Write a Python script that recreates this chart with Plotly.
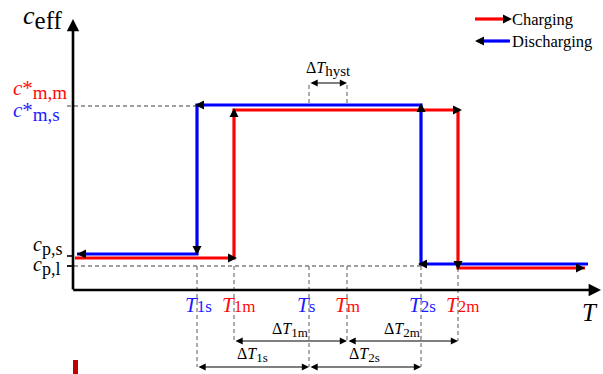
import plotly.graph_objects as go

# ---------------- data (schematic units) ----------------
# characteristic temperatures (x) and their labels
T_names = ["T1s", "T1m", "Ts", "Tm", "T2s", "T2m"]
T_subs = ["1s", "1m", "s", "m", "2s", "2m"]
T_vals = [124, 161, 236, 274, 348, 385]
T_kind = ["s", "m", "s", "m", "s", "m"]      # s -> discharging (blue), m -> charging (red)
T1s, T1m, Ts, Tm, T2s, T2m = T_vals

# effective heat-capacity levels (y)
c_ps = 36          # c_p,s (solid sensible level)
c_pl = 24          # c_p,l (liquid sensible level, dashed reference)
c_ms = 185         # c*_m,s (apparent capacity, discharging)
c_mm = 180         # c*_m,m (apparent capacity, charging)
dis_low_right = 26
chg_low_left = 32
chg_low_right = 22

# curve extents along T
T_min_dis, T_max_dis = 4, 515
T_min_chg, T_max_chg = 2, 512

# discharging path (travelled from high T to low T)
dis_T = [T_max_dis, T2s, T2s, T1s, T1s, T_min_dis]
dis_c = [dis_low_right, dis_low_right, c_ms, c_ms, c_ps, c_ps]
# charging path (travelled from low T to high T)
chg_T = [T_min_chg, T1m, T1m, T2m, T2m, T_max_chg]
chg_c = [chg_low_left, chg_low_left, c_mm, c_mm, chg_low_right, chg_low_right]

# ---------------- styling ----------------
BLUE = "#0000ff"
RED = "#ff0000"
TBLUE = "#1c1cff"
TRED = "#ff0a0a"
GRAY = "#808080"
FONT = "Liberation Serif, Times New Roman, serif"

def X(px):
    return px - 73

def Y(py):
    return 290 - py

fig = go.Figure()

# dashed guide lines
def dashed(xs, ys):
    fig.add_trace(go.Scatter(x=xs, y=ys, mode="lines", hoverinfo="skip",
                             line=dict(color=GRAY, width=1.3, dash="4px,3px")))

dashed([X(67), T1s], [c_ms - 1, c_ms - 1])
dashed([X(67), T2s], [c_pl, c_pl])
y_low1, y_low2 = Y(367), Y(341)
dashed([T1s, T1s], [c_pl, y_low1])
dashed([T1m, T1m], [c_pl, y_low2])
dashed([Ts, Ts], [c_pl, y_low1])
dashed([Tm, Tm], [c_pl, y_low2])
dashed([T2s, T2s], [c_pl, y_low1])
dashed([T2m, T2m], [chg_low_right, y_low2])
y_hyst = Y(83)
dashed([Ts, Ts], [y_hyst - 2, c_ms + 1])
dashed([Tm, Tm], [y_hyst - 2, c_ms + 1])

# curves
fig.add_trace(go.Scatter(x=chg_T, y=chg_c, mode="lines", hoverinfo="skip",
                         line=dict(color=RED, width=3.2)))
fig.add_trace(go.Scatter(x=dis_T, y=dis_c, mode="lines", hoverinfo="skip",
                         line=dict(color=BLUE, width=3.2)))

# direction arrowheads (tips on the curves)
heads_x = [T2s - 3, T2s, T1s - 2, T1s, T_min_dis,
           T1m + 3, T1m, T2m + 4, T2m, T_max_chg]
heads_y = [dis_low_right, c_ms + 2, c_ms, c_ps - 1, c_ps,
           chg_low_left, c_mm + 2, c_mm, chg_low_right - 2, chg_low_right]
heads_s = ["arrow-left", "arrow-up", "arrow-left", "arrow-down", "arrow-left",
           "arrow-right", "arrow-up", "arrow-right", "arrow-down", "arrow-right"]
fig.add_trace(go.Scatter(x=heads_x, y=heads_y, mode="markers", hoverinfo="skip",
                         marker=dict(symbol=heads_s, size=9, color="black",
                                     line=dict(width=0))))

# legend (drawn manually)
fig.add_trace(go.Scatter(x=[X(475), X(505)], y=[Y(19), Y(19)], mode="lines",
                         line=dict(color=RED, width=3.2), hoverinfo="skip"))
fig.add_trace(go.Scatter(x=[X(478), X(510)], y=[Y(41), Y(41)], mode="lines",
                         line=dict(color=BLUE, width=3.2), hoverinfo="skip"))
fig.add_trace(go.Scatter(x=[X(512), X(475)], y=[Y(19), Y(41)], mode="markers",
                         hoverinfo="skip",
                         marker=dict(symbol=["arrow-right", "arrow-left"], size=9,
                                     color="black", line=dict(width=0))))

ann = []
# axes with arrows
ann.append(dict(x=0, y=Y(19), ax=0, ay=Y(291), xref="x", yref="y", axref="x", ayref="y",
                text="", showarrow=True, arrowhead=2, arrowsize=0.95, arrowwidth=2.6,
                arrowcolor="black", standoff=0))
ann.append(dict(x=X(601), y=0, ax=X(71.7), ay=0, xref="x", yref="y", axref="x", ayref="y",
                text="", showarrow=True, arrowhead=2, arrowsize=0.95, arrowwidth=2.6,
                arrowcolor="black", standoff=0))
# y ticks
for lvl in [c_ps - 2, c_pl]:
    fig.add_shape(type="line", x0=X(67), x1=0, y0=lvl, y1=lvl,
                  line=dict(color="black", width=1.6))

# double arrows
def darrow(xa, xb, yy):
    ann.append(dict(x=xb, y=yy, ax=xa, ay=yy, xref="x", yref="y", axref="x", ayref="y",
                    text="", showarrow=True, arrowhead=2, arrowsize=1.2, arrowwidth=1.2,
                    arrowside="end+start", startarrowhead=2, startarrowsize=1.2,
                    arrowcolor="black", standoff=0, startstandoff=0))

darrow(Ts, Tm, y_hyst)
darrow(T1m, Tm, y_low2)
darrow(Tm, T2m, y_low2)
darrow(T1s, Ts, y_low1)
darrow(Ts, T2s, y_low1)

def txt(x, y, s, size, color="black", xanchor="center"):
    ann.append(dict(x=x, y=y, xref="x", yref="y", text=s, showarrow=False,
                    font=dict(family=FONT, size=size, color=color),
                    xanchor=xanchor, yanchor="middle"))

SUB = '<sub><span style="font-size:{}px">{}</span></sub>'
SML = '<span style="font-size:{}px">{}</span>'

# delta labels
txt((Ts + Tm) / 2, Y(69), "Δ<i>T</i>" + SUB.format(15, "hyst"), 16)
txt((T1m + Tm) / 2 - 1, Y(330), "Δ<i>T</i>" + SUB.format(13, "1m"), 16)
txt((Tm + T2m) / 2 - 1, Y(330), "Δ<i>T</i>" + SUB.format(13, "2m"), 16)
txt((T1s + Ts) / 2 - 1, Y(355), "Δ<i>T</i>" + SUB.format(13, "1s"), 16)
txt((Ts + T2s) / 2 - 1, Y(355), "Δ<i>T</i>" + SUB.format(13, "2s"), 16)

# temperature tick labels
for tv, sb, kd in zip(T_vals, T_subs, T_kind):
    col = TBLUE if kd == "s" else TRED
    txt(tv - 14, Y(305), "<i>T</i>" + SML.format(17, sb), 21, col, xanchor="left")

# axis titles
txt(X(590), Y(312), "<i>T</i>", 25)
txt(X(21), Y(17), "<i>c</i>" + SUB.format(25, "eff"), 26, xanchor="left")

# y level labels
txt(X(11), Y(89), "<i>c</i>*" + SUB.format(19, "m,m"), 21, TRED, xanchor="left")
txt(X(11), Y(111), "<i>c</i>*" + SUB.format(19, "m,s"), 21, TBLUE, xanchor="left")
txt(X(31), Y(246), "<i>c</i>" + SUB.format(18, "p,s"), 20, xanchor="left")
txt(X(31), Y(266), "<i>c</i>" + SUB.format(18, "p,l"), 20, xanchor="left")

# legend labels
txt(X(510), Y(19), "Charging", 16.5, xanchor="left")
txt(X(510), Y(41), "Discharging", 16.5, xanchor="left")

# small red mark at the bottom-left
fig.add_shape(type="rect", x0=X(73), x1=X(78), y0=Y(360), y1=Y(375),
              fillcolor="#c00000", line=dict(width=0))

fig.update_layout(
    width=603, height=374, autosize=False,
    margin=dict(l=0, r=0, t=0, b=0),
    paper_bgcolor="white", plot_bgcolor="white",
    showlegend=False, annotations=ann,
    xaxis=dict(range=[X(0), X(603)], visible=False, fixedrange=True),
    yaxis=dict(range=[Y(374), Y(0)], visible=False, fixedrange=True),
)

fig.write_html("out.html")
